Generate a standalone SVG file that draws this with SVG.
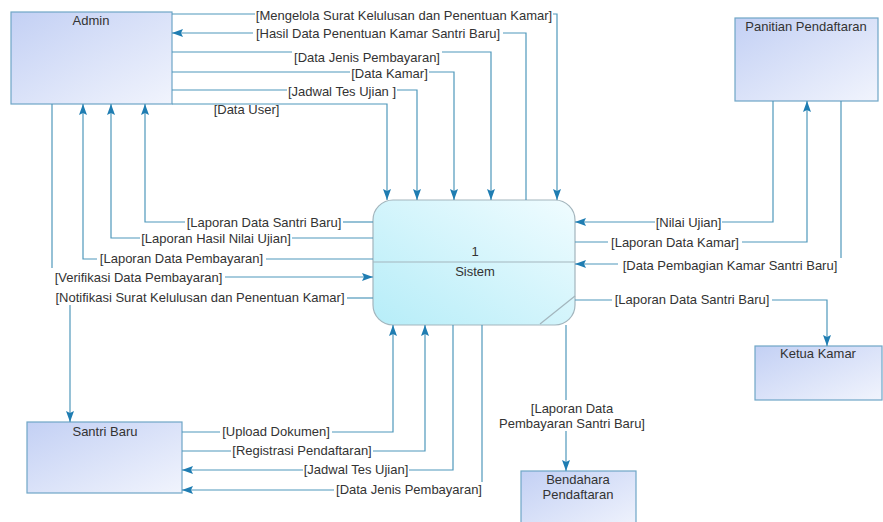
<svg xmlns="http://www.w3.org/2000/svg" width="883" height="522" viewBox="0 0 883 522">
<style>
text{font-family:"Liberation Sans",Arial,sans-serif;font-size:13px;fill:#333;text-anchor:middle}
.ent{fill:url(#gEnt);stroke:#6fa6c6;stroke-width:1.2}
.proc{fill:url(#gProc);stroke:#a3b5bd;stroke-width:1.2}
.c{fill:none;stroke:#4f98bb;stroke-width:1.2}
.a{marker-end:url(#arr)}
</style>
<defs>
<linearGradient id="gEnt" x1="0" y1="0" x2="1" y2="1">
<stop offset="0" stop-color="#c3d0f4"/>
<stop offset="1" stop-color="#f1f4fd"/>
</linearGradient>
<linearGradient id="gProc" x1="0" y1="1" x2="1" y2="0">
<stop offset="0" stop-color="#b6edf8"/>
<stop offset="1" stop-color="#f0fcff"/>
</linearGradient>
<marker id="arr" markerUnits="userSpaceOnUse" markerWidth="11" markerHeight="8" refX="11" refY="4" orient="auto">
<path d="M0,0 L11,4 L0,8 L2,4 Z" fill="#1f7db2"/>
</marker>
</defs>
<rect width="883" height="522" fill="#fff"/>

<g id="admin"><rect class="ent" x="11" y="12" width="161" height="92"/><text x="91" y="25">Admin</text></g>
<g id="panitia"><rect class="ent" x="735" y="18" width="143" height="83"/><text x="806" y="31">Panitian Pendaftaran</text></g>
<g id="ketua"><rect class="ent" x="755" y="346" width="127" height="54"/><text x="818" y="358">Ketua Kamar</text></g>
<g id="santri"><rect class="ent" x="27" y="422" width="155" height="71"/><text x="105" y="436">Santri Baru</text></g>
<g id="bendahara"><rect class="ent" x="521" y="471" width="115" height="60"/><text x="578" y="484">Bendahara</text><text x="578" y="499">Pendaftaran</text></g>
<g id="sistem"><rect class="proc" x="373" y="200" width="202" height="125" rx="20" ry="20"/><line x1="373" y1="262" x2="575" y2="262" stroke="#a3b5bd" stroke-width="1.2"/><line x1="540" y1="324" x2="575" y2="296" stroke="#a3b5bd" stroke-width="1.2"/><text x="475" y="256">1</text><text x="475" y="276">Sistem</text></g>

<g id="connectors">
<path class="c" d="M172,14 H255"/><path class="c a" d="M553,14 H557 V200"/>
<text x="404" y="20">[Mengelola Surat Kelulusan dan Penentuan Kamar]</text>

<path class="c" d="M526,200 V33 H503"/><path class="c a" d="M253,33 H172"/>
<text x="378" y="38">[Hasil Data Penentuan Kamar Santri Baru]</text>

<path class="c" d="M172,52 H292"/><path class="c a" d="M442,52 H491 V200"/>
<text x="367" y="62">[Data Jenis Pembayaran]</text>

<path class="c" d="M172,72 H350"/><path class="c a" d="M429,72 H454 V200"/>
<text x="389.5" y="78">[Data Kamar]</text>

<path class="c" d="M172,90 H287"/><path class="c a" d="M397,90 H417 V200"/>
<text x="342" y="96">[Jadwal Tes Ujian ]</text>

<path class="c a" d="M172,104 H387 V200"/>
<text x="246.5" y="114">[Data User]</text>

<path class="c" d="M373,222 H343"/><path class="c a" d="M185,222 H145 V104"/>
<text x="264" y="227">[Laporan Data Santri Baru]</text>

<path class="c" d="M373,238 H292"/><path class="c a" d="M140,238 H111 V104"/>
<text x="216" y="243">[Laporan Hasil Nilai Ujian]</text>

<path class="c" d="M373,259 H266"/><path class="c a" d="M97,259 H83 V104"/>
<text x="181.5" y="263">[Laporan Data Pembayaran]</text>

<path class="c" d="M52,104 V268"/><path class="c a" d="M225,277 H373"/>
<text x="138.5" y="282">[Verifikasi Data Pembayaran]</text>

<path class="c" d="M373,298 H347"/><path class="c a" d="M70,305 V422"/>
<text x="200" y="302">[Notifikasi Surat Kelulusan dan Penentuan Kamar]</text>

<path class="c" d="M773,101 V222 H722"/><path class="c a" d="M655,222 H575"/>
<text x="688.5" y="227">[Nilai Ujian]</text>

<path class="c" d="M575,242 H608"/><path class="c a" d="M742,242 H807 V101"/>
<text x="675" y="247">[Laporan Data Kamar]</text>

<path class="c" d="M841,101 V258"/><path class="c a" d="M618,264 H575"/>
<text x="730" y="270">[Data Pembagian Kamar Santri Baru]</text>

<path class="c" d="M575,300 H612"/><path class="c a" d="M772,300 H827 V346"/>
<text x="692" y="304">[Laporan Data Santri Baru]</text>

<path class="c" d="M566,325 V400"/><path class="c a" d="M566,431 V471"/>
<text x="572" y="413">[Laporan Data</text><text x="572" y="428">Pembayaran Santri Baru]</text>

<path class="c" d="M182,432 H220"/><path class="c a" d="M332,432 H393 V325"/>
<text x="276" y="436">[Upload Dokumen]</text>

<path class="c" d="M182,451 H231"/><path class="c a" d="M373,451 H425 V325"/>
<text x="302" y="455">[Registrasi Pendaftaran]</text>

<path class="c" d="M453,325 V470 H409"/><path class="c a" d="M303,470 H182"/>
<text x="356" y="474">[Jadwal Tes Ujian]</text>

<path class="c" d="M482,325 V482"/><path class="c a" d="M334,490 H182"/>
<text x="409" y="494">[Data Jenis Pembayaran]</text>
</g>
</svg>
